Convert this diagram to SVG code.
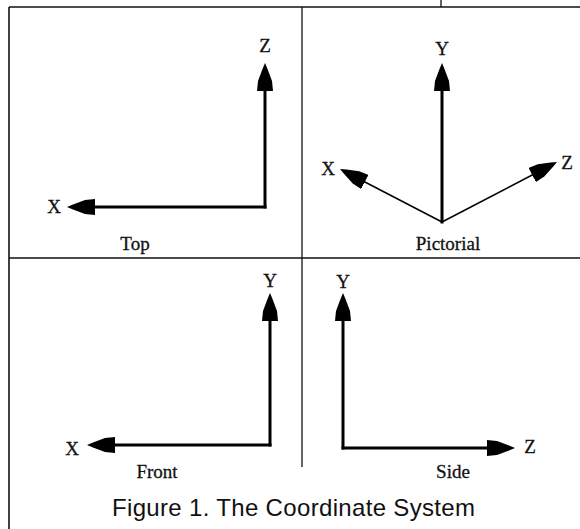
<svg xmlns="http://www.w3.org/2000/svg" width="580" height="529" viewBox="0 0 580 529">
<style>
  .frame{stroke:#111;stroke-width:1.3;fill:none}
  .axis{stroke:#000;stroke-width:3;fill:none;stroke-linecap:square;marker-end:url(#ah)}
  .thin{stroke:#000;stroke-width:1.5;fill:none;marker-end:url(#ah)}
  .lbl{font-family:"Liberation Serif","Times New Roman",serif;font-size:19px;fill:#111;stroke:#111;stroke-width:0.3;text-anchor:middle}
  .cap{font-family:"Liberation Sans",Arial,sans-serif;font-size:24px;fill:#111}
</style>
<defs>
  <marker id="ah" viewBox="0 0 28 16" markerWidth="28" markerHeight="16" refX="14" refY="8" orient="auto" markerUnits="userSpaceOnUse">
    <path d="M28,8 L22,5.5 L10,1 L0,0 L0,16 L10,15 L22,10.5 Z" fill="#000"/>
  </marker>
</defs>
<rect width="580" height="529" fill="#fff"/>
<g id="frame">
  <line class="frame" x1="9" y1="7" x2="580" y2="7"/>
  <line class="frame" x1="9" y1="7" x2="9" y2="529" style="stroke-width:1.6"/>
  <line class="frame" x1="302" y1="7" x2="302" y2="467"/>
  <line class="frame" x1="9" y1="258" x2="580" y2="258"/>
  <line class="frame" x1="441" y1="0" x2="441" y2="7"/>
</g>
<g id="connectors">
  <line class="axis" x1="265" y1="207" x2="265" y2="77"/>
  <line class="axis" x1="265" y1="207" x2="81" y2="207"/>
  <line class="axis" x1="442" y1="222" x2="442" y2="77"/>
  <line class="thin" x1="442" y1="222" x2="352.4" y2="175.5"/>
  <line class="thin" x1="442" y1="222" x2="544.6" y2="168.5"/>
  <line class="axis" x1="270" y1="445" x2="270" y2="307"/>
  <line class="axis" x1="270" y1="445" x2="101" y2="445"/>
  <line class="axis" x1="343" y1="448" x2="343" y2="307"/>
  <line class="axis" x1="343" y1="448" x2="501" y2="448"/>
</g>
<g id="top">
  <text class="lbl" x="265" y="52">Z</text>
  <text class="lbl" x="54" y="213">X</text>
  <text class="lbl" x="135" y="250">Top</text>
</g>
<g id="pictorial">
  <text class="lbl" x="442" y="55">Y</text>
  <text class="lbl" x="328" y="175">X</text>
  <text class="lbl" x="567" y="169">Z</text>
  <text class="lbl" x="448" y="250">Pictorial</text>
</g>
<g id="front">
  <text class="lbl" x="270" y="287">Y</text>
  <text class="lbl" x="72" y="455">X</text>
  <text class="lbl" x="157" y="478">Front</text>
</g>
<g id="side">
  <text class="lbl" x="343" y="288">Y</text>
  <text class="lbl" x="530" y="453">Z</text>
  <text class="lbl" x="453" y="478">Side</text>
</g>
<g id="caption">
  <text class="cap" x="112" y="516" textLength="363">Figure 1.  The Coordinate System</text>
</g>
</svg>
